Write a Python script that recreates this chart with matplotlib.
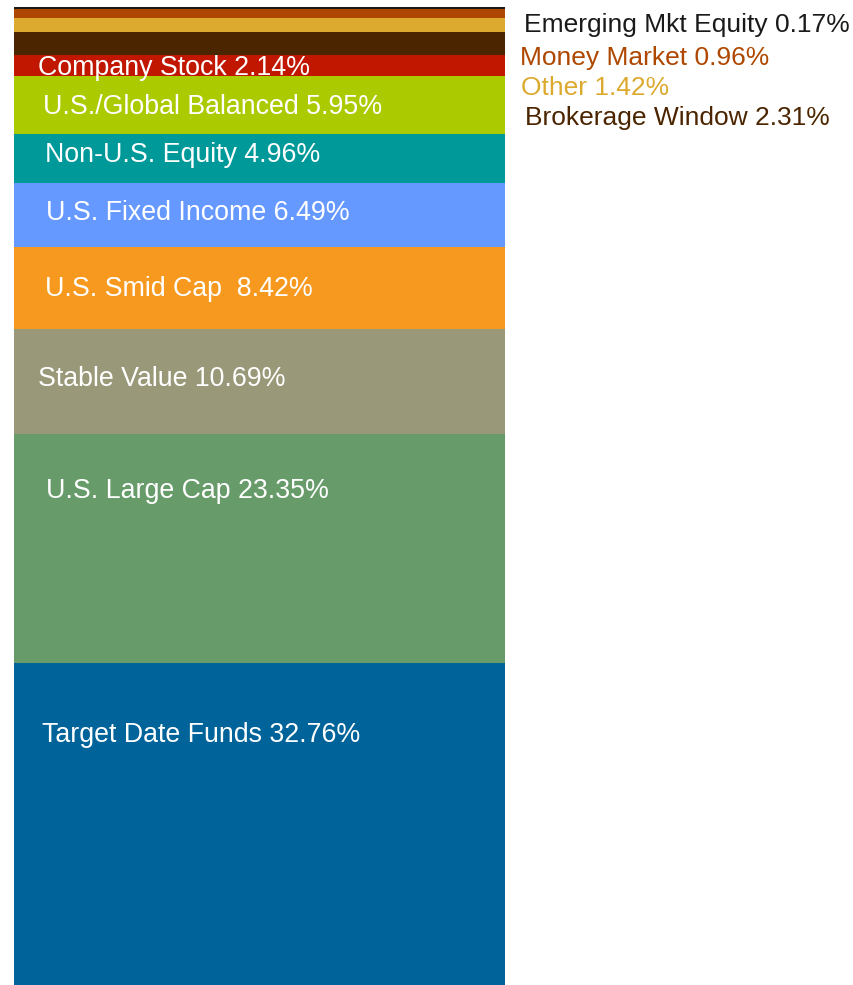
import matplotlib.pyplot as plt

# -----------------------------
# Data (bottom of stack first)
# -----------------------------
categories = ["Target Date Funds", "U.S. Large Cap", "Stable Value", "U.S. Smid Cap ",
              "U.S. Fixed Income", "Non-U.S. Equity", "U.S./Global Balanced",
              "Company Stock", "Brokerage Window", "Other", "Money Market",
              "Emerging Mkt Equity"]
values = [32.76, 23.35, 10.69, 8.42, 6.49, 4.96, 5.95, 2.14, 2.31, 1.42, 0.96, 0.17]
colors = ["#00639A", "#679C6A", "#999979", "#F7991F", "#6699FF", "#009999",
          "#ACCA00", "#C11600", "#4B2400", "#DDAA30", "#AE4700", "#1A1A1A"]

# label placement in figure pixels (x, y from top), inside labels are white
inside_pos = [(42, 733), (46, 489), (38, 377), (45, 287), (46, 211),
              (45, 153), (43, 105), (38, 66)]
outside_pos = {"Brokerage Window": (525, 116), "Other": (521, 86),
               "Money Market": (520, 56), "Emerging Mkt Equity": (524, 23)}
outside_color = {"Brokerage Window": "#4B2400", "Other": "#DDAA30",
                 "Money Market": "#AE4700", "Emerging Mkt Equity": "#1A1A1A"}

plt.rcParams['font.family'] = ['Liberation Sans', 'DejaVu Sans']

W, H = 854, 985
fig = plt.figure(figsize=(W / 100, H / 100), dpi=100)
ax = fig.add_axes([14 / W, 0, (505 - 14) / W, (H - 7) / H])

bottom = 0
for v, c in zip(values, colors):
    ax.bar(0, v, bottom=bottom, width=1, color=c, linewidth=0)
    bottom += v

ax.set_xlim(-0.5, 0.5)
ax.set_ylim(0, sum(values))
ax.axis("off")

for i, (name, v) in enumerate(zip(categories, values)):
    text = f"{name} {v:.2f}%"
    if i < len(inside_pos):
        x, y = inside_pos[i]
        col, fs = "white", 19.3
    else:
        x, y = outside_pos[name]
        col, fs = outside_color[name], 19.0
    fig.text(x / W, 1 - (y + 2) / H, text, color=col, fontsize=fs,
             ha="left", va="center")

fig.savefig("out.png", dpi=100)
